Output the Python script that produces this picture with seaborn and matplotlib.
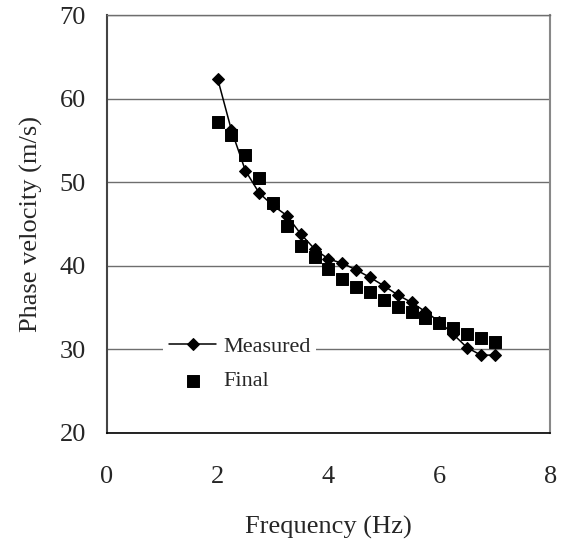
import matplotlib
matplotlib.use("Agg")
import matplotlib.pyplot as plt
import seaborn as sns
import pandas as pd

# Dispersion curve: phase velocity vs frequency
frequency = [2.0, 2.25, 2.5, 2.75, 3.0, 3.25, 3.5, 3.75, 4.0, 4.25, 4.5,
             4.75, 5.0, 5.25, 5.5, 5.75, 6.0, 6.25, 6.5, 6.75, 7.0]
measured = [62.4, 56.2, 51.4, 48.7, 47.2, 46.0, 43.8, 42.0, 40.8, 40.3, 39.5,
            38.6, 37.6, 36.5, 35.6, 34.5, 33.3, 31.8, 30.2, 29.3, 29.3]
final = [57.2, 55.6, 53.3, 50.5, 47.5, 44.8, 42.4, 41.0, 39.6, 38.4, 37.4,
         36.8, 35.9, 35.1, 34.5, 33.8, 33.2, 32.5, 31.8, 31.3, 30.9]

x_ticks = [0, 2, 4, 6, 8]
y_ticks = [20, 30, 40, 50, 60, 70]

df = pd.DataFrame({"Frequency": frequency, "Measured": measured, "Final": final})

sns.set_style("white")
plt.rcParams["font.family"] = ["Liberation Serif", "DejaVu Serif"]

FS = 19

fig = plt.figure(figsize=(5.62, 5.41), dpi=100)
ax = fig.add_axes([0.190, 0.200, 0.789, 0.772])

sns.lineplot(data=df, x="Frequency", y="Measured", ax=ax, color="black",
             linewidth=1.1, marker="D", markersize=6.5, markeredgecolor="black",
             label="Measured", zorder=3)
sns.scatterplot(data=df, x="Frequency", y="Final", ax=ax, color="black",
                marker="s", s=75, edgecolor="black", label="Final", zorder=4)

ax.set_xlim(0, 8)
ax.set_ylim(20, 70)
ax.set_xticks(x_ticks)
ax.set_yticks(y_ticks)
ax.tick_params(axis="both", labelsize=FS, direction="out", length=7,
               width=1, color="black")
ax.tick_params(axis="x", pad=17)
ax.tick_params(axis="y", pad=8)
ax.yaxis.grid(True, color="#6e6e6e", linewidth=1)
ax.xaxis.grid(False)
ax.set_axisbelow(True)

ax.set_xlabel("Frequency (Hz)", fontsize=FS, labelpad=20)
ax.set_ylabel("Phase velocity (m/s)", fontsize=FS, labelpad=12)

ax.spines["left"].set_color("#444444")
ax.spines["left"].set_linewidth(1.5)
ax.spines["bottom"].set_color("black")
ax.spines["bottom"].set_linewidth(1.2)
ax.spines["top"].set_color("#6e6e6e")
ax.spines["top"].set_linewidth(1)
ax.spines["right"].set_color("#888888")
ax.spines["right"].set_linewidth(1.5)

leg = ax.legend(loc="lower left", bbox_to_anchor=(0.102, 0.059), fontsize=16,
                frameon=True, framealpha=1, edgecolor="white", facecolor="white",
                handlelength=2.15, handletextpad=0.3, borderpad=0.25,
                labelspacing=0.64, fancybox=False)
leg.get_frame().set_linewidth(0)

fig.savefig("out.png", dpi=100, facecolor="white")
